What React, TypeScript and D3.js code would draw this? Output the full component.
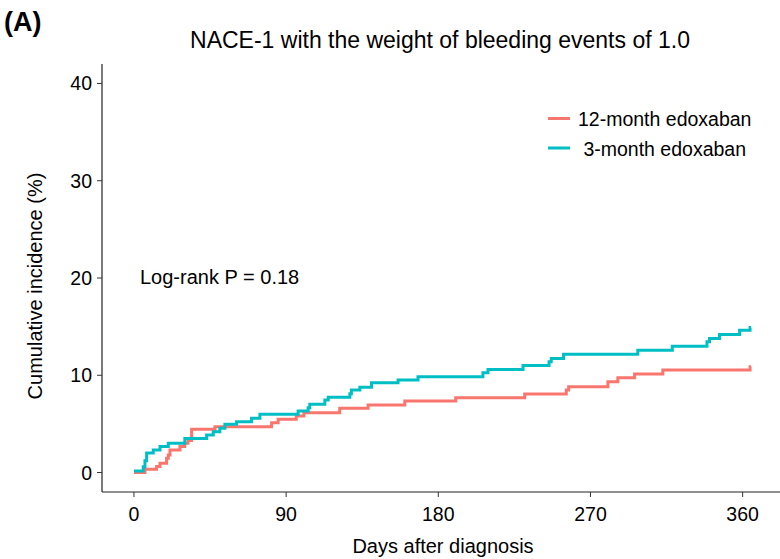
import React from 'react'
import * as d3 from 'd3'

// step times (days) and cumulative incidence (%)
const daysLong = [0, 6.5, 13.4, 15.4, 19.3, 20.3, 21.3, 27.2, 30, 32, 34.1, 47.9, 81.4, 85.3, 96, 100.5, 121.7, 138.5, 160.2, 190.3, 231.1, 255.7, 257.1, 280.3, 286.2, 296.1, 312.8, 364.4, 365]
const incLong = [0, 0.34, 0.62, 0.96, 1.47, 1.8, 2.33, 2.67, 3.0, 3.3, 4.45, 4.72, 5.13, 5.47, 5.82, 6.15, 6.6, 6.94, 7.35, 7.7, 8.07, 8.48, 8.82, 9.33, 9.74, 10.12, 10.53, 10.87, 10.87]

const daysShort = [0, 5.5, 6.5, 7.5, 11.4, 15.4, 20.3, 30.1, 43, 46.9, 50.8, 53.8, 60.7, 69.5, 74.5, 97.1, 103, 104, 112.9, 114.9, 127.7, 128.6, 133.6, 140.5, 156.2, 168, 206.4, 209.4, 230.1, 245.5, 246.8, 254.1, 298, 318.4, 338.9, 340.4, 346.3, 358.2, 364.4, 365]
const incShort = [0.17, 0.6, 1.2, 2.0, 2.33, 2.67, 3.0, 3.5, 3.87, 4.2, 4.55, 4.96, 5.23, 5.58, 5.99, 6.33, 6.67, 7.01, 7.46, 7.73, 8.1, 8.48, 8.76, 9.23, 9.51, 9.85, 10.26, 10.6, 11.01, 11.39, 11.73, 12.17, 12.58, 12.99, 13.44, 13.78, 14.19, 14.63, 14.91, 14.91]

const groups = ['12-month edoxaban', ' 3-month edoxaban']
const colors = ['#F8766D', '#00BFC4']
const xTicks = [0, 90, 180, 270, 360]
const yTicks = [0, 10, 20, 30, 40]

const W = 780
const H = 559
const font = '"Liberation Sans", Arial, sans-serif'

export default function App() {
  const x = d3.scaleLinear().domain([-18.9, 382.1]).range([102, 780])
  const y = d3.scaleLinear().domain([-2, 42]).range([492, 64])

  const stepLine = d3
    .line<[number, number]>()
    .x(d => x(d[0]))
    .y(d => y(d[1]))
    .curve(d3.curveStepAfter)

  const series = [
    daysLong.map((t, i) => [t, incLong[i]] as [number, number]),
    daysShort.map((t, i) => [t, incShort[i]] as [number, number])
  ]

  const [x0, x1] = x.range()
  const [yb, yt] = y.range()

  return (
    <svg
      width={W}
      height={H}
      style={{position: 'absolute', left: 0, top: 0, background: '#fff'}}
      fontFamily={font}
    >
      <text x={4} y={31} fontSize={27} fontWeight="bold">(A)</text>
      <text x={440} y={48} fontSize={23} textAnchor="middle">
        NACE-1 with the weight of bleeding events of 1.0
      </text>

      {/* curves */}
      {series.map((s, i) => (
        <path key={i} d={stepLine(s) || ''} fill="none" stroke={colors[i]} strokeWidth={3} />
      ))}

      {/* axes */}
      <line x1={x0} x2={x1} y1={yb} y2={yb} stroke="#222" strokeWidth={1.2} />
      <line x1={x0} x2={x0} y1={yt} y2={yb} stroke="#222" strokeWidth={1.2} />
      {xTicks.map(t => (
        <g key={t}>
          <line x1={x(t)} x2={x(t)} y1={yb} y2={yb + 5} stroke="#333" />
          <text x={x(t)} y={521} fontSize={19.5} textAnchor="middle">{t}</text>
        </g>
      ))}
      {yTicks.map(t => (
        <g key={t}>
          <line x1={x0 - 5} x2={x0} y1={y(t)} y2={y(t)} stroke="#333" />
          <text x={92} y={y(t) + 7} fontSize={19.5} textAnchor="end">{t}</text>
        </g>
      ))}
      <text x={443} y={553} fontSize={20} textAnchor="middle">Days after diagnosis</text>
      <text
        transform={`translate(42,${(yt + yb) / 2 + 8}) rotate(-90)`}
        fontSize={20}
        textAnchor="middle"
      >
        Cumulative incidence (%)
      </text>

      <text x={140} y={284} fontSize={20}>Log-rank P = 0.18</text>

      {/* legend */}
      {groups.map((g, i) => (
        <g key={g}>
          <line x1={548} x2={570} y1={118.5 + i * 29.5} y2={118.5 + i * 29.5} stroke={colors[i]} strokeWidth={3} />
          <text x={578} y={126 + i * 29.5} fontSize={19.5} style={{whiteSpace: 'pre'}}>{g}</text>
        </g>
      ))}
    </svg>
  )
}
